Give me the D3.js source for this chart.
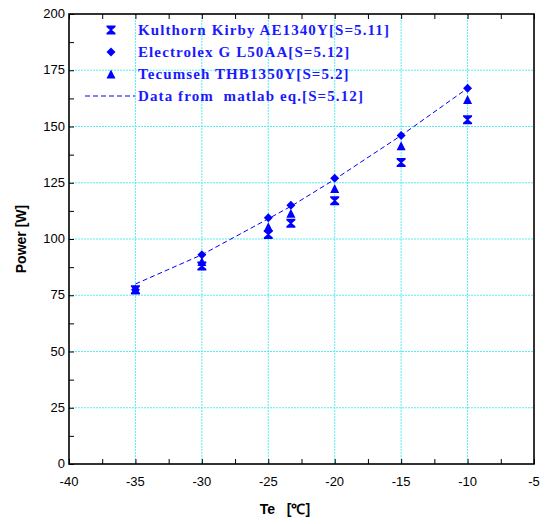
<!DOCTYPE html>
<html>
<head>
<meta charset="utf-8">
<script src="https://cdn.jsdelivr.net/npm/d3@7"></script>
<style>
  body { margin: 0; background: #fff; }
  svg { display: block; }
</style>
</head>
<body>
<div id="chart"></div>
<script>
// data
var temps = [-35, -30, -25, -23.3, -20, -15, -10];
var kulthorn = [77.5, 88, 102, 107, 117, 134, 153];
var electrolex = [77.5, 93, 109.5, 115, 127, 146, 167];
var tecumseh = [77.5, 90, 105.5, 111.5, 122.5, 141.5, 162];
var matlab = [80, 93, 109, 114.5, 126.5, 146, 167];

var legendLabels = [
  "Kulthorn Kirby AE1340Y[S=5.11]",
  "Electrolex G L50AA[S=5.12]",
  "Tecumseh THB1350Y[S=5.2]",
  "Data from  matlab eq.[S=5.12]"
];
var xTicks = [-40, -35, -30, -25, -20, -15, -10, -5];
var yTicks = [0, 25, 50, 75, 100, 125, 150, 175, 200];

var W = 547, H = 524;
// plot box (don't use "top" - clashes with window.top)
var pL = 69, pR = 534, pT = 14, pB = 464;
var blue = "#0000ff";

var svg = d3.select("#chart").append("svg")
  .attr("width", W).attr("height", H);

var x = d3.scaleLinear().domain([-40, -5]).range([pL, pR]);
var y = d3.scaleLinear().domain([0, 200]).range([pB, pT]);

// grid
var gx = xTicks.filter(function(d){ return d > -40 && d < -5; });
var gy = yTicks.filter(function(d){ return d > 0 && d < 200; });
svg.append("g").selectAll("line").data(gx).enter().append("line")
  .attr("x1", function(d){ return x(d); }).attr("x2", function(d){ return x(d); })
  .attr("y1", pT).attr("y2", pB)
  .attr("stroke", "#55eef0").attr("stroke-width", 1).attr("stroke-dasharray", "2,1");
svg.append("g").selectAll("line").data(gy).enter().append("line")
  .attr("y1", function(d){ return y(d); }).attr("y2", function(d){ return y(d); })
  .attr("x1", pL).attr("x2", pR)
  .attr("stroke", "#55eef0").attr("stroke-width", 1).attr("stroke-dasharray", "2,1");

// axes with inner ticks
var minorX = d3.range(-40, -5 + 0.01, 2.5);
var minorY = d3.range(0, 200 + 0.01, 12.5);

svg.append("g").attr("transform", "translate(0," + pB + ")")
  .call(d3.axisBottom(x).tickValues(minorX).tickSize(-5).tickFormat(""))
  .call(function(g){ g.select(".domain").remove(); });
svg.append("g").attr("transform", "translate(0," + pT + ")")
  .call(d3.axisTop(x).tickValues(minorX).tickSize(-5).tickFormat(""))
  .call(function(g){ g.select(".domain").remove(); });
svg.append("g").attr("transform", "translate(" + pL + ",0)")
  .call(d3.axisLeft(y).tickValues(minorY).tickSize(-5).tickFormat(""))
  .call(function(g){ g.select(".domain").remove(); });

// tick labels
svg.append("g").selectAll("text").data(xTicks).enter().append("text")
  .attr("x", function(d){ return x(d); }).attr("y", pB + 22)
  .attr("text-anchor", "middle")
  .attr("font-family", "Liberation Sans, Arial, sans-serif").attr("font-size", 13)
  .text(function(d){ return d; });
svg.append("g").selectAll("text").data(yTicks).enter().append("text")
  .attr("x", pL - 4).attr("y", function(d){ return y(d) + 4; })
  .attr("text-anchor", "end")
  .attr("font-family", "Liberation Sans, Arial, sans-serif").attr("font-size", 13)
  .text(function(d){ return d; });

// frame
svg.append("rect").attr("x", pL).attr("y", pT)
  .attr("width", pR - pL).attr("height", pB - pT)
  .attr("fill", "none").attr("stroke", "#000").attr("stroke-width", 1.6);

// axis titles
svg.append("text").attr("x", 285).attr("y", 514).attr("text-anchor", "middle")
  .attr("font-family", "Liberation Sans, Arial, sans-serif").attr("font-size", 14)
  .attr("font-weight", "bold").attr("xml:space", "preserve").text("Te   [\u2103]");
svg.append("text").attr("transform", "translate(26,239) rotate(-90)")
  .attr("text-anchor", "middle")
  .attr("font-family", "Liberation Sans, Arial, sans-serif").attr("font-size", 14)
  .attr("font-weight", "bold").text("Power [W]");

// matlab line
var line = d3.line().x(function(d, i){ return x(temps[i]); }).y(function(d){ return y(d); });
svg.append("path").datum(matlab).attr("d", line)
  .attr("fill", "none").attr("stroke", blue).attr("stroke-width", 1)
  .attr("stroke-dasharray", "5,3");

// marker shapes
function hourglass(s) {
  var h = s / 2;
  return "M" + (-h) + "," + (-h) + "H" + h + "V" + (-h + 1.5) + "L1,0L" + h + "," + (h - 1.5) +
    "V" + h + "H" + (-h) + "V" + (h - 1.5) + "L-1,0L" + (-h) + "," + (-h + 1.5) + "Z";
}
function diamond(s) {
  var h = s / 2;
  return "M0," + (-h) + "L" + h + ",0L0," + h + "L" + (-h) + ",0Z";
}
function triangle(s) {
  var h = s / 2;
  return "M0," + (-h) + "L" + h + "," + h + "L" + (-h) + "," + h + "Z";
}

var series = [
  { vals: kulthorn, shape: hourglass(9) },
  { vals: electrolex, shape: diamond(9) },
  { vals: tecumseh, shape: triangle(9) }
];
series.forEach(function(s) {
  svg.append("g").selectAll("path").data(s.vals).enter().append("path")
    .attr("transform", function(d, i){ return "translate(" + x(temps[i]) + "," + y(d) + ")"; })
    .attr("d", s.shape).attr("fill", blue);
});

// legend
var ly = [30, 52, 74, 96];
legendLabels.forEach(function(t, i) {
  if (i < 3) {
    svg.append("path").attr("transform", "translate(111," + ly[i] + ")")
      .attr("d", series[i].shape).attr("fill", blue);
  } else {
    svg.append("line").attr("x1", 85).attr("x2", 135).attr("y1", ly[i]).attr("y2", ly[i])
      .attr("stroke", blue).attr("stroke-width", 1).attr("stroke-dasharray", "5,3");
  }
  svg.append("text").attr("x", 138).attr("y", ly[i] + 5)
    .attr("font-family", "Liberation Serif, Times New Roman, serif").attr("font-size", 15)
    .attr("font-weight", "bold").attr("fill", "#1a1aff").attr("letter-spacing", 1.1)
    .attr("xml:space", "preserve").text(t);
});
</script>
</body>
</html>
